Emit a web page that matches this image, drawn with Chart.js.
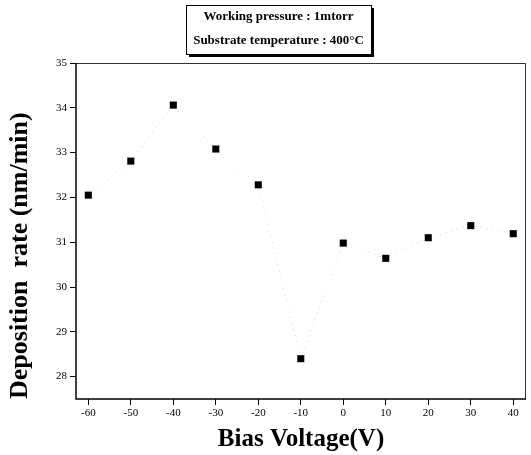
<!DOCTYPE html>
<html>
<head>
<meta charset="utf-8">
<script src="https://cdn.jsdelivr.net/npm/chart.js@4"></script>
<style>
  html, body { margin: 0; padding: 0; background: #fff; }
  #wrap { width: 531px; height: 455px; position: relative; }
</style>
</head>
<body>
<div id="wrap"><canvas id="c" width="531" height="455"></canvas></div>
<script>
const biasVoltage = [-60, -50, -40, -30, -20, -10, 0, 10, 20, 30, 40];
const depositionRate = [32.05, 32.81, 34.06, 33.08, 32.28, 28.40, 30.98, 30.64, 31.10, 31.37, 31.19];
const xTicks = [-60, -50, -40, -30, -20, -10, 0, 10, 20, 30, 40];
const yTicks = [28, 29, 30, 31, 32, 33, 34, 35];
const legendLines = ['Working pressure : 1mtorr', 'Substrate temperature : 400°C'];
const xTitle = 'Bias Voltage(V)';
const yTitle = 'Deposition  rate (nm/min)';

const serif = '"Liberation Serif", "DejaVu Serif", serif';

const boxLegend = {
  id: 'boxLegend',
  afterDraw(chart) {
    const ctx = chart.ctx;
    ctx.save();
    const x = 186, y = 5, w = 185, h = 49;
    ctx.fillStyle = '#000';
    ctx.fillRect(x + 3, y + 3, w, h);
    ctx.fillStyle = '#fff';
    ctx.fillRect(x, y, w, h);
    ctx.strokeStyle = '#000';
    ctx.lineWidth = 1;
    ctx.strokeRect(x + 0.5, y + 0.5, w, h);
    ctx.fillStyle = '#000';
    ctx.font = 'bold 13px ' + serif;
    ctx.textAlign = 'center';
    ctx.textBaseline = 'middle';
    ctx.fillText(legendLines[0], x + w / 2, 17);
    ctx.fillText(legendLines[1], x + w / 2, 41);
    ctx.restore();
  }
};

const frame = {
  id: 'frame',
  afterDatasetsDraw(chart) {
    const a = chart.chartArea, ctx = chart.ctx;
    ctx.save();
    ctx.strokeStyle = '#333';
    ctx.lineWidth = 1;
    ctx.beginPath();
    ctx.moveTo(a.left, a.top + 0.5); ctx.lineTo(a.right, a.top + 0.5);
    ctx.moveTo(a.right - 0.5, a.top); ctx.lineTo(a.right - 0.5, a.bottom);
    ctx.stroke();
    ctx.strokeStyle = '#000';
    ctx.lineWidth = 1.5;
    ctx.beginPath();
    ctx.moveTo(a.left, a.top); ctx.lineTo(a.left, a.bottom);
    ctx.lineTo(a.right, a.bottom);
    ctx.stroke();
    ctx.restore();
  }
};

new Chart(document.getElementById('c'), {
  type: 'scatter',
  data: {
    datasets: [{
      data: biasVoltage.map((v, i) => ({ x: v, y: depositionRate[i] })),
      showLine: true,
      borderColor: 'rgba(150,150,150,0.4)',
      borderWidth: 1,
      borderDash: [1, 5],
      pointStyle: 'rect',
      pointRadius: 5,
      pointBackgroundColor: '#000',
      pointBorderWidth: 0,
      tension: 0
    }]
  },
  options: {
    responsive: false,
    animation: false,
    devicePixelRatio: 1,
    layout: { padding: { top: 63, right: 5, left: 0, bottom: 0 } },
    plugins: { legend: { display: false }, tooltip: { enabled: false } },
    scales: {
      x: {
        type: 'linear',
        min: -62.9,
        max: 43,
        afterBuildTicks(s) { s.ticks = xTicks.map(v => ({ value: v })); },
        afterFit(s) { s.height = 56; },
        grid: { display: true, drawTicks: true, tickLength: 6, tickColor: '#000', tickWidth: 1, drawOnChartArea: false },
        border: { display: false },
        ticks: { color: '#000', font: { family: serif, size: 11 }, padding: 2, maxRotation: 0, autoSkip: false },
        title: { display: true, text: xTitle, color: '#000', font: { family: serif, size: 25, weight: 'bold' }, padding: { top: 0, bottom: 0 } }
      },
      y: {
        min: 27.5,
        max: 35,
        afterBuildTicks(s) { s.ticks = yTicks.map(v => ({ value: v })); },
        afterFit(s) { s.width = 76; },
        grid: { display: true, drawTicks: true, tickLength: 6, tickColor: '#000', tickWidth: 1, drawOnChartArea: false },
        border: { display: false },
        ticks: { color: '#000', font: { family: serif, size: 11 }, padding: 3, autoSkip: false },
        title: { display: true, align: 'start', text: yTitle, color: '#000', font: { family: serif, size: 26, weight: 'bold' }, padding: { top: 5, bottom: 4 } }
      }
    }
  },
  plugins: [frame, boxLegend]
});
</script>
</body>
</html>
